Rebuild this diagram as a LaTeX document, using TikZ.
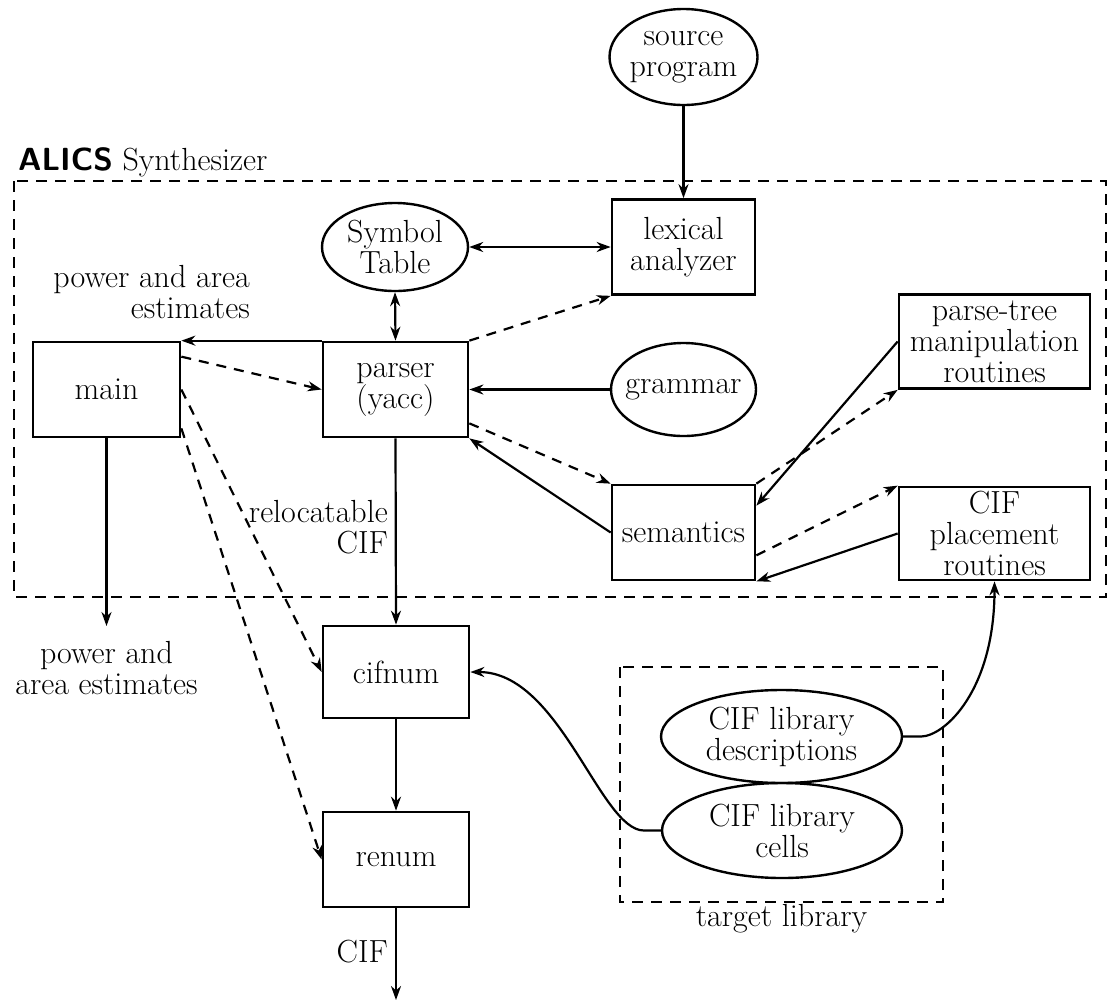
\documentclass[tikz,border=0pt]{standalone}
\usepackage{fontspec}
\usetikzlibrary{arrows.meta,shapes.geometric}
% a line of text that claims a fixed width, so an ellipse can hug it
\newcommand{\fitline}[2]{\makebox[#1]{#2}}
\begin{document}
\begin{tikzpicture}[x=1pt,y=-1pt,
  every node/.style={font=\fontsize{32}{31}\selectfont, inner sep=0pt},
  blk/.style={draw, line width=2.7pt, minimum width=146pt, minimum height=95pt, align=center},
  ovl/.style={draw, ellipse, line width=2.4pt, align=center},
  con/.style={line width=2.2pt},
  arr/.style={con, -{Stealth[length=14pt,width=10pt,inset=4.5pt]}},
  darr/.style={con, {Stealth[length=14pt,width=10pt,inset=4.5pt]}-{Stealth[length=14pt,width=10pt,inset=4.5pt]}},
  dsh/.style={dash pattern=on 10pt off 8pt},
  frame/.style={line width=2.2pt, dash pattern=on 11pt off 8pt}
]
\useasboundingbox (0,0) rectangle (1110,1002);

% dashed enclosures
\draw[frame] (14,181) rectangle (1106,597);
\draw[frame] (620,667) rectangle (943,902);

% components
\node[ovl, minimum width=148pt, minimum height=96pt] (src) at (683.5,57)
  {\fitline{100pt}{source}\\\fitline{100pt}{program}};
\node[blk, minimum width=143pt] (lex) at (683.5,247) {lexical\\analyzer};
\node[ovl, minimum width=146pt, minimum height=88pt] (sym) at (395,247)
  {\fitline{100pt}{Symbol}\\\fitline{100pt}{Table}};
\node[blk, minimum width=147pt] (main) at (106.5,389.5) {main};
\node[blk, minimum width=145pt] (parser) at (395.5,389.5) {parser\\(yacc)};
\node[ovl, minimum width=145pt, minimum height=93pt] (gram) at (683.5,389.5)
  {\fitline{100pt}{grammar}};
\node[blk, minimum width=191pt, minimum height=94pt] (ptree) at (994.5,341.5) {parse-tree\\manipulation\\routines};
\node[blk, minimum width=143pt] (sem) at (683.5,532.5) {semantics};
\node[blk, minimum width=191pt, minimum height=93pt] (place) at (994.5,533.5) {CIF\\placement\\routines};
\node[blk, minimum height=92pt] (cifnum) at (396,672) {cifnum};
\node[blk] (renum) at (396,859.5) {renum};
\node[ovl, minimum width=241pt, minimum height=93pt] (desc) at (781.5,736.5) {CIF library\\descriptions};
\node[ovl, minimum width=240pt, minimum height=95pt] (cells) at (782,830.5) {CIF library\\cells};

% labels
\node[anchor=base west] (title) at (18,170) {\textsf{\bfseries ALICS} Synthesizer};
\node[align=right, anchor=north east] (est1) at (250,265) {power and area\\estimates};
\node[align=center, anchor=north] (est2) at (106.5,641) {power and\\area estimates};
\node[align=right, anchor=north east] (reloc) at (388,500) {relocatable\\CIF};
\node[anchor=base east] (ciflbl) at (388,962) {CIF};
\node[anchor=north] (tlib) at (781.5,904) {target library};

% free ends
\coordinate (pwr) at (106.5,626);
\coordinate (out) at (396,1000);

% connectors
\draw[arr] (src.south) -- (lex.north);
\draw[darr] (sym.east) -- (lex.west);
\draw[darr] (sym.south) -- (parser.north);
\draw[arr] (parser.north west) -- (main.north east);
\draw[arr, dsh] ([yshift=-16pt]main.north east) -- (parser.west);
\draw[arr, dsh] (parser.north east) -- (lex.south west);
\draw[arr] (gram.west) -- (parser.east);
\draw[arr, dsh] ([yshift=15pt]parser.south east) -- (sem.north west);
\draw[arr] (sem.west) -- (parser.south east);
\draw[arr, dsh] (sem.north east) -- (ptree.south west);
\draw[arr] (ptree.west) -- ([yshift=-22pt]sem.north east);
\draw[arr, dsh] ([yshift=26pt]sem.south east) -- (place.north west);
\draw[arr] (place.west) -- (sem.south east);
\draw[arr] (main.south) -- (pwr);
\draw[arr] (parser.south) -- (cifnum.north);
\draw[arr, dsh] (main.east) -- (cifnum.west);
\draw[arr, dsh] ([yshift=10pt]main.south east) -- (renum.west);
\draw[arr] (cifnum.south) -- (renum.north);
\draw[arr] (renum.south) -- (out);
\draw[arr] (cells.west) -- ++(-17,0) .. controls (600,830) and (560,672) .. (cifnum.east);
\draw[arr] (desc.east) -- ++(18,0) .. controls (945,736) and (994.5,690) .. (place.south);
\end{tikzpicture}
\end{document}
